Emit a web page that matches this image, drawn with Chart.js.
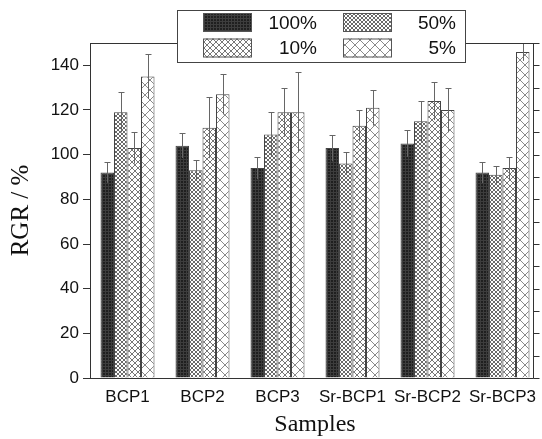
<!DOCTYPE html>
<html>
<head>
<meta charset="utf-8">
<script src="https://cdn.jsdelivr.net/npm/chart.js@4/dist/chart.umd.min.js"></script>
<style>
  html, body { margin: 0; padding: 0; background: #fff; }
</style>
</head>
<body>
<canvas id="rgrChart" width="542" height="439"></canvas>
<script>
// data
const categories = ['BCP1', 'BCP2', 'BCP3', 'Sr-BCP1', 'Sr-BCP2', 'Sr-BCP3'];
const seriesNames = ['100%', '50%', '10%', '5%'];
const rgr100 = [92, 104, 94, 103, 105, 92];
const rgr50 = [119, 93, 109, 96, 115, 91];
const rgr10 = [103, 112, 119, 113, 124, 94];
const rgr5 = [135, 127, 119, 121, 120, 146];
const err100 = [4.6, 5.5, 5, 6, 6, 4.7];
const err50 = [9, 4.5, 10, 5, 9, 4];
const err10 = [7, 13.6, 11, 7, 8.5, 5];
const err5 = [10, 9, 18, 8, 10, 4];
const yTickStep = 10;
const yLabelStep = 20;

// hatch fills
function makePattern(kind) {
    const c = document.createElement('canvas');
    const g = c.getContext('2d');
    if (kind === 'dark') {
        c.width = c.height = 3;
        g.fillStyle = '#1f1f1f';
        g.fillRect(0, 0, 3, 3);
        g.fillStyle = '#3d3d3d';
        g.fillRect(0, 0, 3, 1);
        g.fillRect(0, 0, 1, 3);
        return g.createPattern(c, 'repeat');
    }
    const size = kind === 'fine' ? 4 : kind === 'medium' ? 6 : 10;
    const col = kind === 'fine' ? '#6a6a6a' : kind === 'medium' ? '#777' : '#8a8a8a';
    c.width = c.height = size;
    g.fillStyle = '#fff';
    g.fillRect(0, 0, size, size);
    g.strokeStyle = col;
    g.lineWidth = 1;
    g.beginPath();
    g.moveTo(-1, -1); g.lineTo(size + 1, size + 1);
    g.moveTo(-1, size + 1); g.lineTo(size + 1, -1);
    g.stroke();
    return g.createPattern(c, 'repeat');
}

const fills = [makePattern('dark'), makePattern('fine'), makePattern('medium'), makePattern('coarse')];
const values = [rgr100, rgr50, rgr10, rgr5];
const errors = [err100, err50, err10, err5];

const errorBars = {
    id: 'errorBars',
    afterDatasetsDraw(chart) {
        const ctx = chart.ctx;
        const y = chart.scales.y;
        ctx.save();
        ctx.strokeStyle = '#666';
        ctx.lineWidth = 1;
        chart.data.datasets.forEach((ds, i) => {
            const meta = chart.getDatasetMeta(i);
            meta.data.forEach((bar, j) => {
                const v = ds.data[j];
                const e = errors[i][j];
                const top = Math.round(y.getPixelForValue(v + e)) + 0.5;
                const bot = y.getPixelForValue(v - e);
                const x = Math.round(bar.x) + 0.5;
                ctx.beginPath();
                ctx.moveTo(x, bot);
                ctx.lineTo(x, top);
                ctx.moveTo(x - 3, top);
                ctx.lineTo(x + 3, top);
                ctx.stroke();
            });
        });
        ctx.restore();
    }
};

// the right axis sits a little inside the category range, as in the original
const rightInset = 7;

const frameAndLegend = {
    id: 'frameAndLegend',
    afterDraw(chart) {
        const ctx = chart.ctx;
        const a = chart.chartArea;
        const y = chart.scales.y;
        const rx = Math.round(a.right - rightInset) + 0.5;
        const by = Math.round(a.bottom) + 0.5;
        ctx.save();
        ctx.strokeStyle = '#333';
        ctx.lineWidth = 1;
        ctx.beginPath();
        ctx.moveTo(a.left, a.top + 0.5);
        ctx.lineTo(rx, a.top + 0.5);
        ctx.moveTo(rx, a.top);
        ctx.lineTo(rx, by);
        ctx.moveTo(a.left, by);
        ctx.lineTo(rx, by);
        for (let v = y.min; v <= y.max; v += yTickStep) {
            const py = Math.round(y.getPixelForValue(v)) + 0.5;
            ctx.moveTo(rx, py);
            ctx.lineTo(rx + 6, py);
        }
        ctx.stroke();

        // legend box
        ctx.fillStyle = '#fff';
        ctx.fillRect(177.5, 10.5, 288, 52);
        ctx.strokeStyle = '#444';
        ctx.strokeRect(177.5, 10.5, 288, 52);
        const cols = [{ sx: 203, tx: 317 }, { sx: 343, tx: 456 }];
        const rows = [22.5, 48];
        ctx.font = '19px "Liberation Sans", Arial, sans-serif';
        ctx.textAlign = 'right';
        ctx.textBaseline = 'middle';
        seriesNames.forEach((name, i) => {
            const col = cols[i % 2];
            const cy = rows[Math.floor(i / 2)];
            ctx.fillStyle = fills[i];
            ctx.fillRect(col.sx, cy - 9.5, 49, 19);
            ctx.strokeStyle = '#555';
            ctx.strokeRect(col.sx + 0.5, cy - 9, 48, 18);
            ctx.fillStyle = '#111';
            ctx.fillText(name, col.tx, cy + 1);
        });
        ctx.restore();
    }
};

new Chart(document.getElementById('rgrChart'), {
    type: 'bar',
    data: {
        labels: categories,
        datasets: seriesNames.map((name, i) => ({
            label: name,
            data: values[i],
            backgroundColor: fills[i],
            borderColor: '#444',
            borderWidth: 1,
            borderSkipped: 'bottom',
            barPercentage: 1,
            categoryPercentage: 0.72
        }))
    },
    options: {
        responsive: false,
        animation: false,
        layout: { padding: { top: 43, right: 2, left: 0, bottom: 0 } },
        plugins: { legend: { display: false }, tooltip: { enabled: false } },
        scales: {
            x: {
                offset: true,
                grid: { display: false },
                border: { display: false },
                ticks: {
                    color: '#111',
                    font: { family: '"Liberation Sans", Arial, sans-serif', size: 17 },
                    padding: 1,
                    maxRotation: 0,
                    autoSkip: false
                },
                title: {
                    display: true,
                    text: 'Samples',
                    color: '#111',
                    font: { family: '"Liberation Serif", "Times New Roman", serif', size: 24 },
                    padding: { top: 6, bottom: 0 }
                },
                afterFit: s => { s.height = 61; }
            },
            y: {
                min: 0,
                max: 150,
                grid: { drawOnChartArea: false, drawTicks: true, tickLength: 7, color: '#333' },
                border: { color: '#333', width: 1 },
                ticks: {
                    stepSize: yTickStep,
                    color: '#111',
                    font: { family: '"Liberation Sans", Arial, sans-serif', size: 17 },
                    padding: 4,
                    callback: v => (v % yLabelStep === 0 && v < 150 ? v : '')
                },
                title: {
                    display: true,
                    text: 'RGR / %',
                    color: '#111',
                    font: { family: '"Liberation Serif", "Times New Roman", serif', size: 25 },
                    padding: { top: 6, bottom: 0 }
                },
                afterFit: s => { s.width = 90; }
            }
        }
    },
    plugins: [errorBars, frameAndLegend]
});
</script>
</body>
</html>
